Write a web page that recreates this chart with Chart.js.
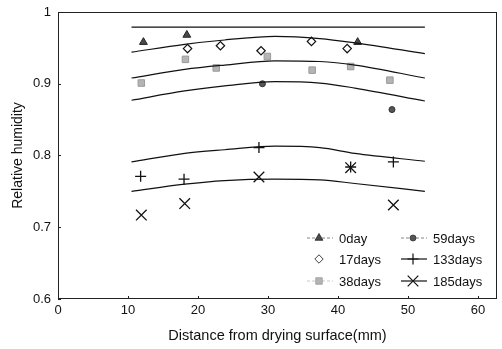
<!DOCTYPE html>
<html>
<head>
<meta charset="utf-8">
<script src="https://cdn.jsdelivr.net/npm/chart.js"></script>
<style>
  html, body { margin: 0; padding: 0; background: #fff; overflow: hidden; }
</style>
</head>
<body>
<canvas id="chart" width="502" height="349"></canvas>
<script>
// measured points (x = distance mm, y = relative humidity)
const day0 = [[12.2, 0.958], [18.4, 0.968], [42.8, 0.958]];
const day17 = [[18.5, 0.949], [23.2, 0.953], [29.0, 0.946], [36.2, 0.959], [41.3, 0.949]];
const day38 = [[11.9, 0.901], [18.2, 0.934], [22.6, 0.922], [29.9, 0.938], [36.3, 0.919], [41.8, 0.924], [47.4, 0.905]];
const day59 = [[29.2, 0.900], [47.7, 0.864]];
const day133 = [[11.8, 0.771], [18.0, 0.767], [28.7, 0.811], [41.8, 0.784], [47.9, 0.791]];
const day185 = [[11.9, 0.717], [18.1, 0.733], [28.7, 0.770], [41.8, 0.783], [47.9, 0.731]];

// fitted curves
const curveX = [10.5, 18.1, 23.8, 31.0, 37.4, 42.4, 52.4];
const curveTop = [0.979, 0.979, 0.979, 0.979, 0.979, 0.979, 0.979];
const curveA = [0.944, 0.955, 0.961, 0.966, 0.963, 0.957, 0.942];
const curveB = [0.908, 0.920, 0.926, 0.932, 0.931, 0.926, 0.908];
const curveC = [0.877, 0.890, 0.897, 0.903, 0.901, 0.894, 0.876];
const curveD = [0.791, 0.803, 0.808, 0.813, 0.811, 0.803, 0.792];
const curveE = [0.750, 0.760, 0.765, 0.767, 0.766, 0.761, 0.750];

const xTicks = [0, 10, 20, 30, 40, 50, 60];
const yTicks = [0.6, 0.7, 0.8, 0.9, 1];

const FONT = "'Liberation Sans', Arial, sans-serif";

const toPts = arr => arr.map(p => ({ x: p[0], y: p[1] }));
const curvePts = ys => curveX.map((x, i) => ({ x: x, y: ys[i] }));

// marker styles, shared with the legend
const styles = {
  "0day":    { pointStyle: "triangle", radius: 4.5, bg: "#4a4a4a", border: "#222", borderWidth: 1, line: "dash" },
  "17days":  { pointStyle: "rectRot",  radius: 4.2, bg: "#fff",    border: "#111", borderWidth: 1.2, line: "none" },
  "38days":  { pointStyle: "rect",     radius: 4.6, bg: "#b4b4b4", border: "#9a9a9a", borderWidth: 1, line: "faint" },
  "59days":  { pointStyle: "circle",   radius: 3,   bg: "#555",    border: "#333", borderWidth: 1, line: "dash" },
  "133days": { pointStyle: "cross",    radius: 5.5, bg: "#111",    border: "#111", borderWidth: 1.3, line: "solid" },
  "185days": { pointStyle: "crossRot", radius: 7.5, bg: "#111",    border: "#111", borderWidth: 1.3, line: "solid" }
};

function pointSet(label, data) {
  const s = styles[label];
  return {
    label: label,
    data: toPts(data),
    showLine: false,
    pointStyle: s.pointStyle,
    pointRadius: s.radius,
    pointBackgroundColor: s.bg,
    pointBorderColor: s.border,
    pointBorderWidth: s.borderWidth
  };
}

function curveSet(ys) {
  return {
    label: "fit",
    data: curvePts(ys),
    showLine: true,
    borderColor: "#111",
    borderWidth: 1.2,
    pointRadius: 0,
    tension: 0.4,
    cubicInterpolationMode: "monotone"
  };
}

// frame + inward ticks
const framePlugin = {
  id: "frame",
  afterDraw(chart) {
    const ctx = chart.ctx, a = chart.chartArea;
    ctx.save();
    ctx.strokeStyle = "#222";
    ctx.lineWidth = 1;
    ctx.strokeRect(a.left + 0.5, a.top + 0.5, a.right - a.left - 1, a.bottom - a.top - 1);
    const xs = chart.scales.x, ys = chart.scales.y;
    ctx.beginPath();
    xTicks.forEach(v => {
      const px = Math.round(xs.getPixelForValue(v)) + 0.5;
      ctx.moveTo(px, a.bottom); ctx.lineTo(px, a.bottom - 3);
    });
    yTicks.forEach(v => {
      const py = Math.round(ys.getPixelForValue(v)) + 0.5;
      ctx.moveTo(a.left, py); ctx.lineTo(a.left + 3, py);
    });
    ctx.stroke();
    ctx.restore();
  }
};

// legend in the lower right corner, two columns
const legendPlugin = {
  id: "cornerLegend",
  afterDraw(chart) {
    const ctx = chart.ctx, a = chart.chartArea;
    const cols = [["0day", "17days", "38days"], ["59days", "133days", "185days"]];
    const colX = [a.right - 190, a.right - 96];
    const rowY = [a.bottom - 61, a.bottom - 40, a.bottom - 18];
    ctx.save();
    ctx.font = "13px " + FONT;
    ctx.textBaseline = "middle";
    ctx.fillStyle = "#111";
    cols.forEach((col, ci) => {
      col.forEach((label, ri) => {
        const s = styles[label];
        const x0 = colX[ci], y = rowY[ri];
        const mid = x0 + 12;
        if (s.line !== "none") {
          ctx.beginPath();
          ctx.lineWidth = s.line === "solid" ? 1.2 : 0.8;
          ctx.strokeStyle = s.line === "faint" ? "#bbb" : (s.line === "solid" ? "#111" : "#666");
          ctx.setLineDash(s.line === "solid" ? [] : [3, 2]);
          ctx.moveTo(x0, y); ctx.lineTo(x0 + 26, y);
          ctx.stroke();
          ctx.setLineDash([]);
        }
        ctx.fillStyle = s.bg;
        ctx.strokeStyle = s.border;
        Chart.helpers.drawPoint(ctx, {
          pointStyle: s.pointStyle,
          radius: s.radius,
          borderWidth: s.borderWidth,
          rotation: 0
        }, mid, y);
        ctx.fillStyle = "#111";
        ctx.fillText(label, x0 + 32, y + 1);
      });
    });
    ctx.restore();
  }
};

new Chart(document.getElementById("chart"), {
  type: "scatter",
  data: {
    datasets: [
      curveSet(curveTop),
      curveSet(curveA),
      curveSet(curveB),
      curveSet(curveC),
      curveSet(curveD),
      curveSet(curveE),
      pointSet("0day", day0),
      pointSet("17days", day17),
      pointSet("38days", day38),
      pointSet("59days", day59),
      pointSet("133days", day133),
      pointSet("185days", day185)
    ]
  },
  options: {
    responsive: false,
    animation: false,
    layout: { autoPadding: false, padding: { top: 12, right: 5, left: 0, bottom: 0 } },
    plugins: {
      legend: { display: false },
      tooltip: { enabled: false }
    },
    scales: {
      x: {
        type: "linear",
        min: 0,
        max: 62.7,
        afterFit(s) {
          s.height = 50;
          s.paddingLeft = 0;
          s.paddingRight = 0;
        },
        grid: { display: false, drawTicks: false },
        border: { display: false },
        ticks: {
          stepSize: 10,
          includeBounds: false,
          padding: 4,
          color: "#111",
          font: { family: FONT, size: 13 },
          maxRotation: 0
        },
        title: {
          display: true,
          text: "Distance from drying surface(mm)",
          color: "#111",
          font: { family: FONT, size: 14.5 },
          padding: { top: 0, bottom: 4 }
        }
      },
      y: {
        type: "linear",
        min: 0.6,
        max: 1,
        afterFit(s) {
          s.width = 58;
          s.paddingTop = 0;
          s.paddingBottom = 0;
        },
        grid: { display: false, drawTicks: false },
        border: { display: false },
        ticks: {
          stepSize: 0.1,
          padding: 7,
          color: "#111",
          font: { family: FONT, size: 13 },
          callback: v => String(Number(v.toFixed(1)))
        },
        title: {
          display: true,
          text: "Relative humidity",
          color: "#111",
          font: { family: FONT, size: 14 },
          padding: { top: 10, bottom: 0 }
        }
      }
    }
  },
  plugins: [framePlugin, legendPlugin]
});
</script>
</body>
</html>
